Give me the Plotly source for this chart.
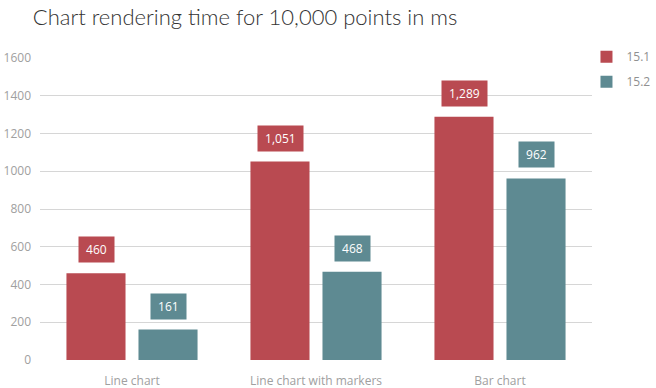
import plotly.graph_objects as go

categories = ["Line chart", "Line chart with markers", "Bar chart"]
series_names = ["15.1", "15.2"]
values_151 = [460, 1051, 1289]
values_152 = [161, 468, 962]
y_ticks = [0, 200, 400, 600, 800, 1000, 1200, 1400, 1600]

RED = "#B94A51"
TEAL = "#5E8A92"
FONT = "Open Sans, Segoe UI, Noto Sans, sans-serif"

fig = go.Figure()
fig.add_trace(go.Bar(name=series_names[0], x=categories, y=values_151,
                     legendgroup="a",
                     marker=dict(color=RED, line=dict(width=0))))
fig.add_trace(go.Bar(name=series_names[1], x=categories, y=values_152,
                     legendgroup="b",
                     marker=dict(color=TEAL, line=dict(width=0))))

annotations = []
for vals, color, shift in [(values_151, RED, -36), (values_152, TEAL, 36)]:
    for c, v in zip(categories, vals):
        annotations.append(dict(
            x=c, y=v, xref="x", yref="y", text=f"\u00a0{v:,}\u00a0",
            showarrow=False, xshift=shift, yanchor="bottom", yshift=10,
            bgcolor=color, borderpad=4,
            font=dict(family=FONT, size=12, color="white")))

fig.update_layout(
    width=656, height=388,
    margin=dict(l=40, r=64, t=58, b=28, autoexpand=False),
    paper_bgcolor="white", plot_bgcolor="white",
    barmode="group", bargap=0.217, bargroupgap=0.18,
    title=dict(text="Chart rendering time for 10,000 points in ms",
               x=0.05, xanchor="left", y=0.955, yanchor="middle",
               font=dict(family="Lato, Open Sans, sans-serif", size=22,
                         color="#333333", weight=300)),
    font=dict(family=FONT, size=12, color="#A0A0A0"),
    xaxis=dict(showgrid=False, showline=False, ticks="",
               ticklabelstandoff=12,
               tickfont=dict(size=12, color="#A0A0A0")),
    yaxis=dict(range=[0, 1600], tickvals=y_ticks, showgrid=True,
               gridcolor="#D6D6D6", gridwidth=1, zeroline=False,
               showline=False, ticks="", ticklabelstandoff=8,
               tickfont=dict(size=12, color="#A0A0A0")),
    legend=dict(x=0.99, xanchor="left", y=1.052, yanchor="top",
                bgcolor="rgba(0,0,0,0)",
                font=dict(size=12, color="#909090"), tracegroupgap=6,
                itemwidth=30),
    annotations=annotations,
    showlegend=True,
)

fig.write_html("out.html", config={"displayModeBar": False},
               post_script="document.body.style.margin='0';document.body.style.padding='0';")
